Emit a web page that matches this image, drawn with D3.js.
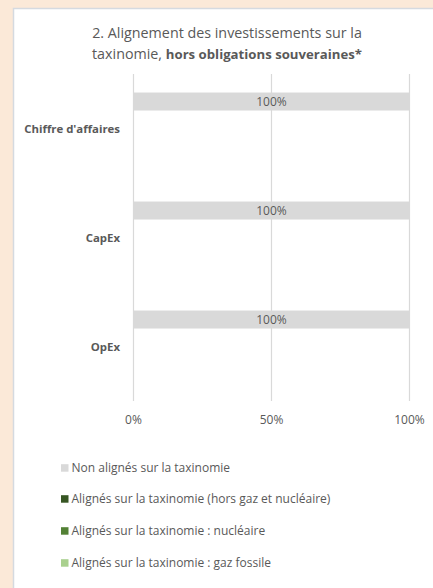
<!DOCTYPE html>
<html><head><meta charset="utf-8">
<script src="https://cdn.jsdelivr.net/npm/d3@7"></script>
<style>
html,body{margin:0;padding:0;background:#FBE9D8;}
svg{display:block;}
text{font-family:"Open Sans",sans-serif;}
</style></head>
<body>
<script>
const categories = ["Chiffre d'affaires", "CapEx", "OpEx"];
const seriesNames = ["Non alignés sur la taxinomie", "Alignés sur la taxinomie (hors gaz et nucléaire)", "Alignés sur la taxinomie : nucléaire", "Alignés sur la taxinomie : gaz fossile"];
const seriesColors = ["#D9D9D9", "#375623", "#538135", "#A9D08E"];
const nonAligned = [100, 100, 100];
const alignedExGasNuclear = [0, 0, 0];
const alignedNuclear = [0, 0, 0];
const alignedGas = [0, 0, 0];
const xTicks = [0, 50, 100];
const titleLine1 = "2. Alignement des investissements sur la";
const titleLine2a = "taxinomie, ";
const titleLine2b = "hors obligations souveraines*";

const series = [nonAligned, alignedExGasNuclear, alignedNuclear, alignedGas];
const W = 433, H = 588;
const svg = d3.select("body").append("svg").attr("width", W).attr("height", H);
svg.append("rect").attr("x", 0).attr("y", 0).attr("width", W).attr("height", H).attr("fill", "#FBE9D8");
svg.append("rect").attr("x", 13.5).attr("y", 8.5).attr("width", W).attr("height", H).attr("fill", "#fff").attr("stroke", "#D5DAE0").attr("stroke-width", 1.5);

const grey = "#595959";
svg.append("text").attr("x", 227).attr("y", 38).attr("text-anchor", "middle").attr("fill", grey).attr("font-size", 14.3).text(titleLine1);
const t2 = svg.append("text").attr("x", 227).attr("y", 59).attr("text-anchor", "middle").attr("fill", grey).attr("font-size", 14.3);
t2.append("tspan").text(titleLine2a);
t2.append("tspan").attr("font-weight", "bold").attr("font-size", 13.2).text(titleLine2b);

const x = d3.scaleLinear().domain([0, 100]).range([133, 409]);
const y = d3.scaleBand().domain(categories).range([74, 401]);
const ys = d3.scaleBand().domain(d3.range(series.length)).range([0, y.bandwidth()]).paddingInner(0).paddingOuter(1.03);

// gridlines
svg.append("g").selectAll("line").data(xTicks).join("line")
  .attr("x1", d => x(d) + 0.5).attr("x2", d => x(d) + 0.5)
  .attr("y1", 74).attr("y2", 401)
  .attr("stroke", "#D9D9D9").attr("stroke-width", 1.2);

// bars
categories.forEach((c, ci) => {
  series.forEach((s, si) => {
    const v = s[ci];
    if (v > 0) {
      svg.append("rect").attr("x", x(0)).attr("y", y(c) + ys(si))
        .attr("width", x(v) - x(0)).attr("height", ys.bandwidth())
        .attr("fill", seriesColors[si]);
      svg.append("text").attr("x", (x(0) + x(v)) / 2 + 0.5).attr("y", y(c) + ys(si) + ys.bandwidth() / 2 + 4.5)
        .attr("text-anchor", "middle").attr("fill", grey).attr("font-size", 12).text(v + "%");
    }
  });
});

// category labels
svg.append("g").selectAll("text").data(categories).join("text")
  .attr("x", 120).attr("y", d => y(d) + y.bandwidth() / 2 + 4)
  .attr("text-anchor", "end").attr("fill", grey).attr("font-size", 11.4).attr("font-weight", "bold")
  .text(d => d);

// x tick labels
svg.append("g").selectAll("text").data(xTicks).join("text")
  .attr("x", d => x(d) + 0.5).attr("y", 423.5)
  .attr("text-anchor", "middle").attr("fill", grey).attr("font-size", 12)
  .text(d => d + "%");

// legend
const legY = [468, 499, 531, 563];
seriesNames.forEach((n, i) => {
  svg.append("rect").attr("x", 61).attr("y", legY[i] - 3.8).attr("width", 7.5).attr("height", 7.5).attr("fill", seriesColors[i]);
  svg.append("text").attr("x", 71.5).attr("y", legY[i] + 4.3).attr("fill", grey).attr("font-size", 12).text(n);
});
</script>
</body></html>
